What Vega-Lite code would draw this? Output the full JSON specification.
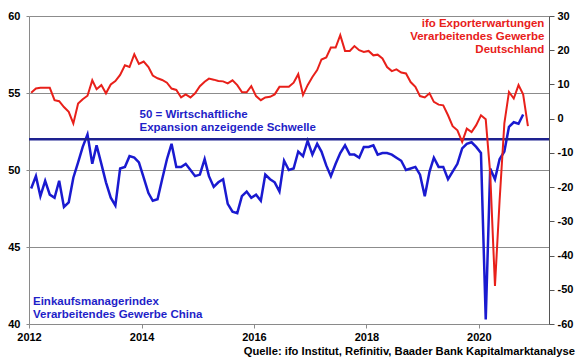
{
  "$schema": "https://vega.github.io/schema/vega-lite/v6.json",
  "width": 520,
  "height": 308,
  "autosize": "none",
  "padding": {"left": 29, "top": 16, "right": 31, "bottom": 35},
  "background": "white",
  "config": {
    "font": "Liberation Sans",
    "view": {"stroke": null},
    "axis": {"labelFont": "Liberation Sans", "labelFontWeight": "bold", "labelFontSize": 11, "labelColor": "#000000", "title": null, "labelOverlap": false}
  },
  "title": {"text": "Quelle: ifo Institut, Refinitiv, Baader Bank Kapitalmarktanalyse", "orient": "bottom", "anchor": "end", "fontSize": 11.2, "fontWeight": "bold", "font": "Liberation Sans", "color": "#000000", "dx": 2, "offset": 4},
  "datasets": {
    "series": [
      {"date": "2012-01-15", "pmi": 48.8, "ifo": 7.6},
      {"date": "2012-02-15", "pmi": 49.6, "ifo": 8.8},
      {"date": "2012-03-15", "pmi": 48.3, "ifo": 9.0},
      {"date": "2012-04-15", "pmi": 49.3, "ifo": 9.0},
      {"date": "2012-05-15", "pmi": 48.4, "ifo": 9.0},
      {"date": "2012-06-15", "pmi": 48.2, "ifo": 5.4},
      {"date": "2012-07-15", "pmi": 49.3, "ifo": 5.1},
      {"date": "2012-08-15", "pmi": 47.6, "ifo": 3.4},
      {"date": "2012-09-15", "pmi": 47.9, "ifo": 2.0},
      {"date": "2012-10-15", "pmi": 49.5, "ifo": -1.4},
      {"date": "2012-11-15", "pmi": 50.5, "ifo": 4.4},
      {"date": "2012-12-15", "pmi": 51.5, "ifo": 5.7},
      {"date": "2013-01-15", "pmi": 52.3, "ifo": 6.7},
      {"date": "2013-02-15", "pmi": 50.4, "ifo": 11.2},
      {"date": "2013-03-15", "pmi": 51.6, "ifo": 8.6},
      {"date": "2013-04-15", "pmi": 50.4, "ifo": 9.8},
      {"date": "2013-05-15", "pmi": 49.2, "ifo": 7.4},
      {"date": "2013-06-15", "pmi": 48.2, "ifo": 10.0},
      {"date": "2013-07-15", "pmi": 47.7, "ifo": 11.0},
      {"date": "2013-08-15", "pmi": 50.1, "ifo": 12.8},
      {"date": "2013-09-15", "pmi": 50.2, "ifo": 15.6},
      {"date": "2013-10-15", "pmi": 50.9, "ifo": 15.1},
      {"date": "2013-11-15", "pmi": 50.8, "ifo": 18.8},
      {"date": "2013-12-15", "pmi": 50.5, "ifo": 16.0},
      {"date": "2014-01-15", "pmi": 49.5, "ifo": 16.7},
      {"date": "2014-02-15", "pmi": 48.5, "ifo": 15.1},
      {"date": "2014-03-15", "pmi": 48.0, "ifo": 12.6},
      {"date": "2014-04-15", "pmi": 48.1, "ifo": 11.8},
      {"date": "2014-05-15", "pmi": 49.4, "ifo": 11.3},
      {"date": "2014-06-15", "pmi": 50.7, "ifo": 10.5},
      {"date": "2014-07-15", "pmi": 51.7, "ifo": 8.8},
      {"date": "2014-08-15", "pmi": 50.2, "ifo": 8.4},
      {"date": "2014-09-15", "pmi": 50.2, "ifo": 6.2},
      {"date": "2014-10-15", "pmi": 50.4, "ifo": 7.1},
      {"date": "2014-11-15", "pmi": 50.0, "ifo": 6.2},
      {"date": "2014-12-15", "pmi": 49.6, "ifo": 7.4},
      {"date": "2015-01-15", "pmi": 49.7, "ifo": 9.5},
      {"date": "2015-02-15", "pmi": 50.7, "ifo": 10.8},
      {"date": "2015-03-15", "pmi": 49.6, "ifo": 11.7},
      {"date": "2015-04-15", "pmi": 48.9, "ifo": 11.4},
      {"date": "2015-05-15", "pmi": 49.2, "ifo": 11.0},
      {"date": "2015-06-15", "pmi": 49.4, "ifo": 10.9},
      {"date": "2015-07-15", "pmi": 47.8, "ifo": 10.3},
      {"date": "2015-08-15", "pmi": 47.3, "ifo": 11.2},
      {"date": "2015-09-15", "pmi": 47.2, "ifo": 9.8},
      {"date": "2015-10-15", "pmi": 48.3, "ifo": 7.8},
      {"date": "2015-11-15", "pmi": 48.6, "ifo": 7.7},
      {"date": "2015-12-15", "pmi": 48.2, "ifo": 9.5},
      {"date": "2016-01-15", "pmi": 48.4, "ifo": 6.6},
      {"date": "2016-02-15", "pmi": 48.0, "ifo": 5.4},
      {"date": "2016-03-15", "pmi": 49.7, "ifo": 6.2},
      {"date": "2016-04-15", "pmi": 49.4, "ifo": 6.4},
      {"date": "2016-05-15", "pmi": 49.2, "ifo": 7.1},
      {"date": "2016-06-15", "pmi": 48.6, "ifo": 9.3},
      {"date": "2016-07-15", "pmi": 50.6, "ifo": 9.3},
      {"date": "2016-08-15", "pmi": 50.0, "ifo": 9.3},
      {"date": "2016-09-15", "pmi": 50.1, "ifo": 10.5},
      {"date": "2016-10-15", "pmi": 51.2, "ifo": 13.0},
      {"date": "2016-11-15", "pmi": 50.9, "ifo": 6.9},
      {"date": "2016-12-15", "pmi": 51.9, "ifo": 9.8},
      {"date": "2017-01-15", "pmi": 51.0, "ifo": 12.2},
      {"date": "2017-02-15", "pmi": 51.7, "ifo": 14.2},
      {"date": "2017-03-15", "pmi": 51.2, "ifo": 17.3},
      {"date": "2017-04-15", "pmi": 50.3, "ifo": 17.9},
      {"date": "2017-05-15", "pmi": 49.6, "ifo": 20.8},
      {"date": "2017-06-15", "pmi": 50.4, "ifo": 20.8},
      {"date": "2017-07-15", "pmi": 51.1, "ifo": 24.4},
      {"date": "2017-08-15", "pmi": 51.6, "ifo": 19.8},
      {"date": "2017-09-15", "pmi": 51.0, "ifo": 19.8},
      {"date": "2017-10-15", "pmi": 51.0, "ifo": 21.2},
      {"date": "2017-11-15", "pmi": 50.8, "ifo": 20.0},
      {"date": "2017-12-15", "pmi": 51.5, "ifo": 19.5},
      {"date": "2018-01-15", "pmi": 51.5, "ifo": 19.8},
      {"date": "2018-02-15", "pmi": 51.6, "ifo": 18.5},
      {"date": "2018-03-15", "pmi": 51.0, "ifo": 18.7},
      {"date": "2018-04-15", "pmi": 51.1, "ifo": 17.6},
      {"date": "2018-05-15", "pmi": 51.1, "ifo": 15.1},
      {"date": "2018-06-15", "pmi": 51.0, "ifo": 13.9},
      {"date": "2018-07-15", "pmi": 50.8, "ifo": 14.4},
      {"date": "2018-08-15", "pmi": 50.6, "ifo": 13.5},
      {"date": "2018-09-15", "pmi": 50.0, "ifo": 13.2},
      {"date": "2018-10-15", "pmi": 50.1, "ifo": 10.7},
      {"date": "2018-11-15", "pmi": 50.2, "ifo": 9.3},
      {"date": "2018-12-15", "pmi": 49.7, "ifo": 6.6},
      {"date": "2019-01-15", "pmi": 48.3, "ifo": 6.2},
      {"date": "2019-02-15", "pmi": 49.9, "ifo": 7.4},
      {"date": "2019-03-15", "pmi": 50.8, "ifo": 4.9},
      {"date": "2019-04-15", "pmi": 50.2, "ifo": 4.1},
      {"date": "2019-05-15", "pmi": 50.2, "ifo": 3.9},
      {"date": "2019-06-15", "pmi": 49.4, "ifo": 1.0},
      {"date": "2019-07-15", "pmi": 49.9, "ifo": -2.2},
      {"date": "2019-08-15", "pmi": 50.4, "ifo": -3.4},
      {"date": "2019-09-15", "pmi": 51.4, "ifo": -6.8},
      {"date": "2019-10-15", "pmi": 51.7, "ifo": -2.9},
      {"date": "2019-11-15", "pmi": 51.8, "ifo": -3.9},
      {"date": "2019-12-15", "pmi": 51.5, "ifo": -1.9},
      {"date": "2020-01-15", "pmi": 51.1, "ifo": 1.0},
      {"date": "2020-02-15", "pmi": 40.3, "ifo": -0.2},
      {"date": "2020-03-15", "pmi": 50.1, "ifo": -16.0},
      {"date": "2020-04-15", "pmi": 49.4, "ifo": -48.9},
      {"date": "2020-05-15", "pmi": 50.7, "ifo": -24.0},
      {"date": "2020-06-15", "pmi": 51.2, "ifo": -1.4},
      {"date": "2020-07-15", "pmi": 52.8, "ifo": 7.8},
      {"date": "2020-08-15", "pmi": 53.1, "ifo": 5.9},
      {"date": "2020-09-15", "pmi": 53.0, "ifo": 9.8},
      {"date": "2020-10-15", "pmi": 53.6, "ifo": 7.1},
      {"date": "2020-11-15", "pmi": null, "ifo": -2.2}
    ]
  },
  "layer": [
    {
      "layer": [
        {
          "data": {"name": "series"},
          "mark": {"type": "line", "color": "#1a1ad0", "strokeWidth": 2.5},
          "encoding": {
            "x": {
              "field": "date", "type": "temporal",
              "scale": {"type": "utc", "domain": [{"year": 2012, "month": 1, "date": 1, "utc": true}, {"year": 2021, "month": 4, "date": 1, "utc": true}]},
              "axis": {
                "values": [{"year": 2012, "month": 1, "date": 1, "utc": true}, {"year": 2014, "month": 1, "date": 1, "utc": true}, {"year": 2016, "month": 1, "date": 1, "utc": true}, {"year": 2018, "month": 1, "date": 1, "utc": true}, {"year": 2020, "month": 1, "date": 1, "utc": true}],
                "format": "%Y", "grid": false, "domainColor": "#8a8a8a", "tickColor": "#8a8a8a", "tickSize": 4, "labelPadding": 3, "labelFlush": false
              }
            },
            "y": {
              "field": "pmi", "type": "quantitative",
              "scale": {"domain": [40, 60], "nice": false, "zero": false},
              "axis": {"orient": "left", "values": [40, 45, 50, 55, 60], "grid": true, "gridColor": "#8c8c8c", "gridWidth": 1, "domainColor": "#8a8a8a", "tickColor": "#8a8a8a", "tickSize": 3, "labelPadding": 6, "title": null}
            }
          }
        },
        {
          "data": {"values": [{}]},
          "mark": {"type": "rule", "color": "#1e2290", "strokeWidth": 2.5},
          "encoding": {"y": {"datum": 52, "type": "quantitative", "axis": {"orient": "left", "values": [40, 45, 50, 55, 60], "grid": true, "gridColor": "#8c8c8c", "gridWidth": 1, "domainColor": "#8a8a8a", "tickColor": "#8a8a8a", "tickSize": 3, "labelPadding": 6, "title": null}}}
        },
        {
          "data": {"values": [{}]},
          "mark": {"type": "text", "align": "left", "baseline": "middle", "font": "Liberation Sans", "fontWeight": "bold", "fontSize": 11.5, "lineHeight": 12.7, "color": "#1f1fc8"},
          "encoding": {
            "x": {"datum": {"year": 2013, "month": 12, "date": 19, "utc": true}, "type": "temporal"},
            "y": {"datum": 53.55, "type": "quantitative", "axis": {"orient": "left", "values": [40, 45, 50, 55, 60], "grid": true, "gridColor": "#8c8c8c", "gridWidth": 1, "domainColor": "#8a8a8a", "tickColor": "#8a8a8a", "tickSize": 3, "labelPadding": 6, "title": null}},
            "text": {"value": ["50 = Wirtschaftliche", "Expansion anzeigende Schwelle"]}
          }
        },
        {
          "data": {"values": [{}]},
          "mark": {"type": "text", "align": "left", "baseline": "middle", "font": "Liberation Sans", "fontWeight": "bold", "fontSize": 11.5, "lineHeight": 13.3, "color": "#1f1fc8"},
          "encoding": {
            "x": {"datum": {"year": 2012, "month": 1, "date": 27, "utc": true}, "type": "temporal"},
            "y": {"datum": 41.43, "type": "quantitative", "axis": {"orient": "left", "values": [40, 45, 50, 55, 60], "grid": true, "gridColor": "#8c8c8c", "gridWidth": 1, "domainColor": "#8a8a8a", "tickColor": "#8a8a8a", "tickSize": 3, "labelPadding": 6, "title": null}},
            "text": {"value": ["Einkaufsmanagerindex", "Verarbeitendes Gewerbe China"]}
          }
        }
      ]
    },
    {
      "layer": [
        {
          "data": {"name": "series"},
          "mark": {"type": "line", "color": "#e8201a", "strokeWidth": 2},
          "encoding": {
            "x": {"field": "date", "type": "temporal"},
            "y": {
              "field": "ifo", "type": "quantitative",
              "scale": {"domain": [-60, 30], "nice": false, "zero": false},
              "axis": {"orient": "right", "values": [-60, -50, -40, -30, -20, -10, 0, 10, 20, 30], "labelOverlap": false, "grid": false, "domainColor": "#555555", "tickColor": "#555555", "tickSize": 5, "labelPadding": 3, "labelExpr": "'' + datum.value", "title": null}
            }
          }
        },
        {
          "data": {"values": [{}]},
          "mark": {"type": "text", "align": "right", "baseline": "middle", "font": "Liberation Sans", "fontWeight": "bold", "fontSize": 11.5, "lineHeight": 12.7, "color": "#e8201a"},
          "encoding": {
            "x": {"datum": {"year": 2021, "month": 3, "date": 2, "utc": true}, "type": "temporal"},
            "y": {"datum": 27.57, "type": "quantitative", "axis": {"orient": "right", "values": [-60, -50, -40, -30, -20, -10, 0, 10, 20, 30], "labelOverlap": false, "grid": false, "domainColor": "#555555", "tickColor": "#555555", "tickSize": 5, "labelPadding": 3, "labelExpr": "'' + datum.value", "title": null}},
            "text": {"value": ["ifo Exporterwartungen", "Verarbeitendes Gewerbe", "Deutschland"]}
          }
        }
      ]
    }
  ],
  "resolve": {"scale": {"y": "independent"}}
}
